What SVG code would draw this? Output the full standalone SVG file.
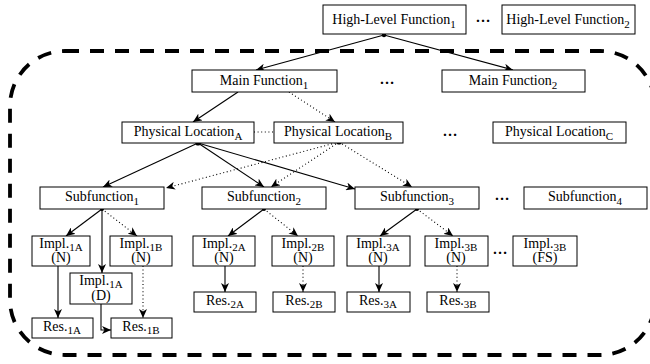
<svg xmlns="http://www.w3.org/2000/svg" width="650" height="364" viewBox="0 0 650 364">
<defs>
<marker id="ah" markerWidth="10" markerHeight="8" refX="9" refY="4" orient="auto" markerUnits="userSpaceOnUse">
<path d="M0,0 L9,4 L0,8 L2.5,4 z" fill="#000"/>
</marker>
<style>
.box{fill:#fff;stroke:#000;stroke-width:1}
.t{font-family:"Liberation Serif","Times New Roman",serif;font-size:14px;fill:#000;text-anchor:middle}
.s{font-size:11px}
.c{fill:none;stroke:#000;stroke-width:1.1}
.d{fill:none;stroke:#000;stroke-width:1.1;stroke-dasharray:1,2.6}
.dots{font-family:"Liberation Serif",serif;font-size:15px;font-weight:bold;text-anchor:middle}
</style>
</defs>
<rect width="650" height="364" fill="#fff"/>
<path d="M65,51 H600 A55,55 0 0 1 655,106 V300 A55,55 0 0 1 600,355 H65 A55,55 0 0 1 10,300 V106 A55,55 0 0 1 65,51 Z" fill="none" stroke="#000" stroke-width="3.8" stroke-dasharray="14,11"/>

<g id="connectors">
<line class="c" x1="384" y1="35" x2="256" y2="70" marker-end="url(#ah)"/>
<line class="c" x1="384" y1="35" x2="513" y2="70" marker-end="url(#ah)"/>
<circle cx="384" cy="35" r="2.2"/>
<line class="c" x1="238" y1="92" x2="193" y2="122" marker-end="url(#ah)"/>
<line class="d" x1="289" y1="92" x2="335" y2="122" marker-end="url(#ah)"/>
<line class="d" x1="254" y1="132" x2="274" y2="132"/>
<line class="c" x1="198" y1="143" x2="103" y2="187" marker-end="url(#ah)"/>
<line class="c" x1="198" y1="143" x2="264" y2="187" marker-end="url(#ah)"/>
<line class="c" x1="198" y1="143" x2="355" y2="189" marker-end="url(#ah)"/>
<circle cx="198" cy="143" r="2.6"/>
<line class="d" x1="339" y1="142" x2="166" y2="188" marker-end="url(#ah)"/>
<line class="d" x1="339" y1="142" x2="271" y2="187" marker-end="url(#ah)"/>
<line class="d" x1="339" y1="142" x2="412" y2="187" marker-end="url(#ah)"/>
<circle cx="339" cy="142" r="2.6"/>
<line class="c" x1="102" y1="209" x2="66" y2="236" marker-end="url(#ah)"/>
<line class="c" x1="102" y1="209" x2="102" y2="273" marker-end="url(#ah)"/>
<line class="d" x1="102" y1="209" x2="137" y2="236" marker-end="url(#ah)"/>
<circle cx="102" cy="209" r="2"/>
<line class="c" x1="264" y1="209" x2="228" y2="236" marker-end="url(#ah)"/>
<line class="d" x1="264" y1="209" x2="298" y2="236" marker-end="url(#ah)"/>
<circle cx="264" cy="209" r="2"/>
<line class="c" x1="417" y1="209" x2="380" y2="236" marker-end="url(#ah)"/>
<line class="d" x1="417" y1="209" x2="453" y2="236" marker-end="url(#ah)"/>
<circle cx="417" cy="209" r="2"/>
<line class="c" x1="58" y1="266" x2="58" y2="318" marker-end="url(#ah)"/>
<polyline class="c" points="101,304 101,330 111,330" marker-end="url(#ah)"/>
<line class="d" x1="143" y1="266" x2="143" y2="318" marker-end="url(#ah)"/>
<line class="c" x1="225" y1="266" x2="225" y2="292" marker-end="url(#ah)"/>
<line class="d" x1="303" y1="266" x2="303" y2="292" marker-end="url(#ah)"/>
<line class="c" x1="379" y1="266" x2="379" y2="292" marker-end="url(#ah)"/>
<line class="d" x1="457" y1="266" x2="457" y2="292" marker-end="url(#ah)"/>
</g>

<g id="hlf1"><rect class="box" x="323" y="5" width="143" height="29"/><text class="t" x="394" y="24">High-Level Function<tspan class="s" dy="4">1</tspan></text></g>
<text class="dots" x="483" y="22">…</text>
<g id="hlf2"><rect class="box" x="502" y="5" width="133" height="29"/><text class="t" x="568" y="24">High-Level Function<tspan class="s" dy="4">2</tspan></text></g>

<g id="mf1"><rect class="box" x="192" y="70" width="145" height="22"/><text class="t" x="264" y="85">Main Function<tspan class="s" dy="4">1</tspan></text></g>
<text class="dots" x="387" y="84">…</text>
<g id="mf2"><rect class="box" x="442" y="70" width="143" height="22"/><text class="t" x="513" y="85">Main Function<tspan class="s" dy="4">2</tspan></text></g>

<g id="pla"><rect class="box" x="122" y="122" width="132" height="21"/><text class="t" x="188" y="136">Physical Location<tspan class="s" dy="4">A</tspan></text></g>
<g id="plb"><rect class="box" x="274" y="122" width="129" height="21"/><text class="t" x="338" y="136">Physical Location<tspan class="s" dy="4">B</tspan></text></g>
<text class="dots" x="450" y="136">…</text>
<g id="plc"><rect class="box" x="493" y="122" width="133" height="21"/><text class="t" x="559" y="136">Physical Location<tspan class="s" dy="4">C</tspan></text></g>

<g id="sub1"><rect class="box" x="40" y="187" width="124" height="22"/><text class="t" x="102" y="201">Subfunction<tspan class="s" dy="4">1</tspan></text></g>
<g id="sub2"><rect class="box" x="202" y="187" width="124" height="22"/><text class="t" x="264" y="201">Subfunction<tspan class="s" dy="4">2</tspan></text></g>
<g id="sub3"><rect class="box" x="355" y="187" width="124" height="22"/><text class="t" x="417" y="201">Subfunction<tspan class="s" dy="4">3</tspan></text></g>
<text class="dots" x="502" y="200">…</text>
<g id="sub4"><rect class="box" x="524" y="187" width="123" height="22"/><text class="t" x="585" y="201">Subfunction<tspan class="s" dy="4">4</tspan></text></g>

<g id="i1an"><rect class="box" x="32" y="236" width="58" height="30"/><text class="t" x="61" y="248">Impl.<tspan class="s" dy="3">1A</tspan></text><text class="t" x="61" y="262">(N)</text></g>
<g id="i1b"><rect class="box" x="110" y="236" width="62" height="30"/><text class="t" x="141" y="248">Impl.<tspan class="s" dy="3">1B</tspan></text><text class="t" x="141" y="262">(N)</text></g>
<g id="i1ad"><rect class="box" x="70" y="273" width="62" height="31"/><text class="t" x="101" y="285">Impl.<tspan class="s" dy="3">1A</tspan></text><text class="t" x="101" y="300">(D)</text></g>
<g id="i2a"><rect class="box" x="193" y="236" width="62" height="30"/><text class="t" x="224" y="248">Impl.<tspan class="s" dy="3">2A</tspan></text><text class="t" x="224" y="262">(N)</text></g>
<g id="i2b"><rect class="box" x="272" y="236" width="62" height="30"/><text class="t" x="303" y="248">Impl.<tspan class="s" dy="3">2B</tspan></text><text class="t" x="303" y="262">(N)</text></g>
<g id="i3a"><rect class="box" x="347" y="236" width="63" height="30"/><text class="t" x="378" y="248">Impl.<tspan class="s" dy="3">3A</tspan></text><text class="t" x="378" y="262">(N)</text></g>
<g id="i3b"><rect class="box" x="425" y="236" width="63" height="30"/><text class="t" x="456" y="248">Impl.<tspan class="s" dy="3">3B</tspan></text><text class="t" x="456" y="262">(N)</text></g>
<text class="dots" x="500" y="254">…</text>
<g id="i3bfs"><rect class="box" x="513" y="236" width="64" height="30"/><text class="t" x="545" y="248">Impl.<tspan class="s" dy="3">3B</tspan></text><text class="t" x="545" y="262">(FS)</text></g>

<g id="r1a"><rect class="box" x="32" y="318" width="61" height="20"/><text class="t" x="62" y="331">Res.<tspan class="s" dy="3">1A</tspan></text></g>
<g id="r1b"><rect class="box" x="111" y="318" width="61" height="20"/><text class="t" x="141" y="331">Res.<tspan class="s" dy="3">1B</tspan></text></g>
<g id="r2a"><rect class="box" x="194" y="292" width="62" height="20"/><text class="t" x="225" y="305">Res.<tspan class="s" dy="3">2A</tspan></text></g>
<g id="r2b"><rect class="box" x="273" y="292" width="62" height="20"/><text class="t" x="304" y="305">Res.<tspan class="s" dy="3">2B</tspan></text></g>
<g id="r3a"><rect class="box" x="347" y="292" width="63" height="20"/><text class="t" x="378" y="305">Res.<tspan class="s" dy="3">3A</tspan></text></g>
<g id="r3b"><rect class="box" x="427" y="292" width="62" height="20"/><text class="t" x="458" y="305">Res.<tspan class="s" dy="3">3B</tspan></text></g>
</svg>
